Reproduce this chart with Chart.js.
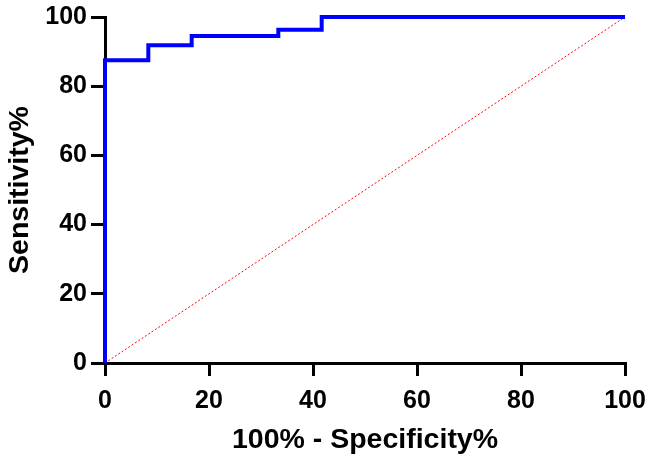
<!DOCTYPE html>
<html>
<head>
<meta charset="utf-8">
<script src="https://cdn.jsdelivr.net/npm/chart.js@4/dist/chart.umd.min.js"></script>
<style>
  html, body { margin: 0; padding: 0; background: #fff; }
  #wrap { width: 650px; height: 460px; }
</style>
</head>
<body>
<div id="wrap"><canvas id="c" width="650" height="460"></canvas></div>
<script>
// ROC curve corner points (100% - Specificity%, Sensitivity%)
const rocX = [0, 0, 8.33, 8.33, 16.67, 16.67, 33.33, 33.33, 41.67, 41.67, 100];
const rocY = [0, 87.5, 87.5, 91.8, 91.8, 94.5, 94.5, 96.3, 96.3, 100, 100];
// reference (chance) line
const refX = [0, 100];
const refY = [0, 100];
const xTitle = '100% - Specificity%';
const yTitle = 'Sensitivity%';

const FONT = '"Liberation Sans", Arial, sans-serif';

const toPts = (xs, ys) => xs.map((x, i) => ({ x: x, y: ys[i] }));

new Chart(document.getElementById('c'), {
  type: 'scatter',
  data: {
    datasets: [
      {
        data: toPts(rocX, rocY),
        showLine: true,
        borderColor: '#0000ff',
        borderWidth: 4,
        pointRadius: 0,
        tension: 0,
        clip: false,
        order: 1
      },
      {
        data: toPts(refX, refY),
        showLine: true,
        borderColor: '#ff0000',
        borderWidth: 1,
        borderDash: [2, 2],
        pointRadius: 0,
        clip: false,
        order: 2
      }
    ]
  },
  options: {
    responsive: false,
    animation: false,
    devicePixelRatio: 1,
    layout: { padding: { left: 0, top: 17, right: 25, bottom: 0 } },
    plugins: { legend: { display: false }, tooltip: { enabled: false } },
    scales: {
      x: {
        type: 'linear',
        min: 0, max: 100,
        afterFit: s => { s.height = 97; s.paddingLeft = 0; s.paddingRight = 0; },
        ticks: { stepSize: 20, color: '#000', padding: 10,
                 font: { family: FONT, size: 25, weight: 'bold' } },
        grid: { drawOnChartArea: false, drawTicks: true, tickLength: 13,
                tickWidth: 3, tickColor: '#000', color: '#000', lineWidth: 3 },
        border: { display: true, color: '#000', width: 3 },
        title: { display: true, text: xTitle, color: '#000',
                 font: { family: FONT, size: 28.5, weight: 'bold' },
                 padding: { top: 3, bottom: 3 } }
      },
      y: {
        type: 'linear',
        min: 0, max: 100,
        afterFit: s => { s.width = 105; s.paddingTop = 0; s.paddingBottom = 0; },
        ticks: { stepSize: 20, color: '#000', padding: 4,
                 font: { family: FONT, size: 25, weight: 'bold' } },
        grid: { drawOnChartArea: false, drawTicks: true, tickLength: 14,
                tickWidth: 3, tickColor: '#000', color: '#000', lineWidth: 3 },
        border: { display: true, color: '#000', width: 3 },
        title: { display: true, text: yTitle, color: '#000',
                 font: { family: FONT, size: 28.5, weight: 'bold' },
                 padding: { top: 3, bottom: 3 } }
      }
    }
  }
});
</script>
</body>
</html>
